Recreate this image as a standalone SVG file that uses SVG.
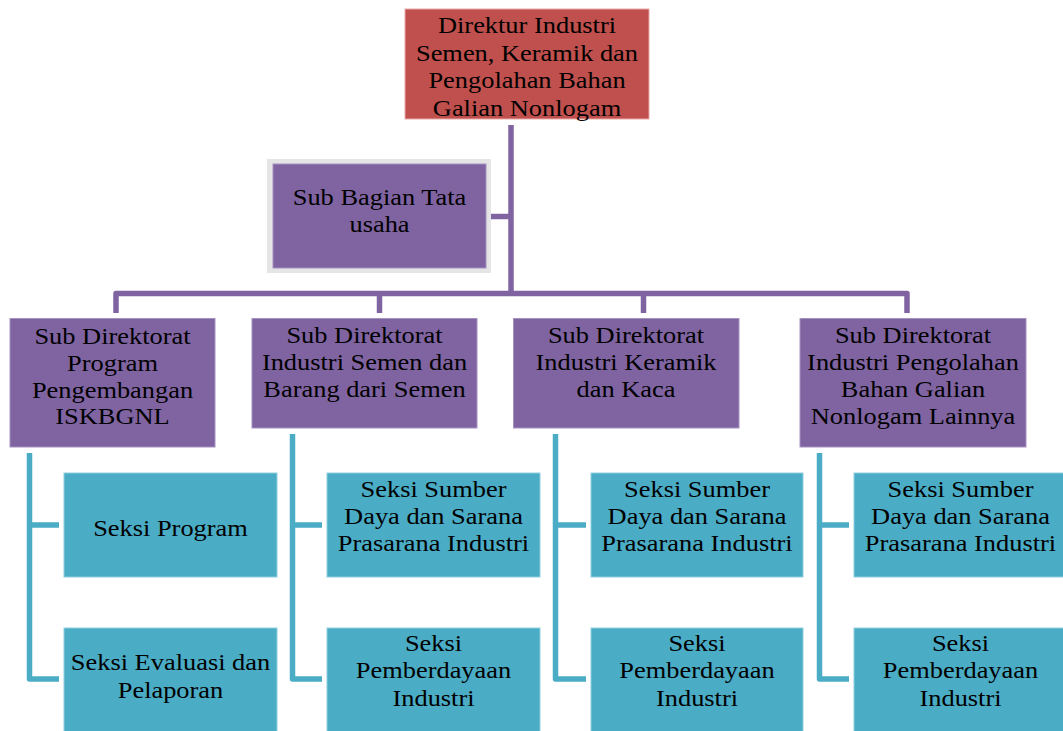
<svg xmlns="http://www.w3.org/2000/svg" width="1063" height="731" viewBox="0 0 1063 731">
<style>
.t{font-family:"Liberation Serif","Times New Roman",serif;font-size:24px;fill:#000;text-anchor:middle}
.red{fill:#C0504D;stroke:#E9A9A7;stroke-width:1}
.pur{fill:#8064A2;stroke:#A591C0;stroke-width:1}
.cy{fill:#4BACC6;stroke:#8FCFE0;stroke-width:1}
.pl{fill:none;stroke:#8064A2;stroke-width:5.5;stroke-linejoin:round}
.cl{fill:none;stroke:#4BACC6;stroke-width:5.5;stroke-linejoin:round}
</style>
<rect width="1063" height="731" fill="#fff"/>
<g id="connectors">
<path class="pl" d="M511,125 V293.5"/>
<path class="pl" d="M491,216.5 H511"/>
<path class="pl" d="M116,313 V293.5 H907 V313"/>
<path class="pl" d="M379.5,293.5 V313"/>
<path class="pl" d="M643.5,293.5 V313"/>
<path class="cl" d="M29.5,453 V679 H59 M29.5,525 H59"/>
<path class="cl" d="M292.5,434 V679 H322 M292.5,525 H322"/>
<path class="cl" d="M555.5,434 V679 H586 M555.5,525 H586"/>
<path class="cl" d="M819.5,453 V679 H849 M819.5,525 H849"/>
</g>
<g id="direktur">
<rect class="red" x="405" y="9" width="244" height="110"/>
<g transform="translate(527,0) scale(1.1,1)"><text class="t" x="0" y="33.5">Direktur Industri</text><text class="t" x="0" y="61">Semen, Keramik dan</text><text class="t" x="0" y="88.5">Pengolahan Bahan</text><text class="t" x="0" y="116">Galian Nonlogam</text></g>
</g>
<g id="subbagian">
<rect x="267" y="159" width="224" height="114" fill="#E5E5E5"/>
<rect class="pur" x="273" y="164" width="213" height="104"/>
<g transform="translate(379.5,0) scale(1.1,1)"><text class="t" x="0" y="205">Sub Bagian Tata</text><text class="t" x="0" y="232">usaha</text></g>
</g>
<g id="subdit1">
<rect class="pur" x="10" y="318.5" width="205" height="128.5"/>
<g transform="translate(112.5,0) scale(1.1,1)"><text class="t" x="0" y="344">Sub Direktorat</text><text class="t" x="0" y="371">Program</text><text class="t" x="0" y="398">Pengembangan</text><text class="t" x="0" y="424.5">ISKBGNL</text></g>
</g>
<g id="subdit2">
<rect class="pur" x="252" y="318.5" width="225" height="109.5"/>
<g transform="translate(364.5,0) scale(1.1,1)"><text class="t" x="0" y="343.5">Sub Direktorat</text><text class="t" x="0" y="370.5">Industri Semen dan</text><text class="t" x="0" y="397.5">Barang dari Semen</text></g>
</g>
<g id="subdit3">
<rect class="pur" x="513.5" y="318.5" width="225.5" height="109.5"/>
<g transform="translate(626,0) scale(1.1,1)"><text class="t" x="0" y="343.5">Sub Direktorat</text><text class="t" x="0" y="370.5">Industri Keramik</text><text class="t" x="0" y="397.5">dan Kaca</text></g>
</g>
<g id="subdit4">
<rect class="pur" x="800" y="318.5" width="226" height="128.5"/>
<g transform="translate(913,0) scale(1.1,1)"><text class="t" x="0" y="343.5">Sub Direktorat</text><text class="t" x="0" y="370.5">Industri Pengolahan</text><text class="t" x="0" y="397.5">Bahan Galian</text><text class="t" x="0" y="424">Nonlogam Lainnya</text></g>
</g>
<g id="seksi-program">
<rect class="cy" x="64" y="473" width="213" height="104"/>
<g transform="translate(170.5,0) scale(1.1,1)"><text class="t" x="0" y="536">Seksi Program</text></g>
</g>
<g id="seksi-evaluasi">
<rect class="cy" x="64" y="628" width="213" height="110"/>
<g transform="translate(170.5,0) scale(1.1,1)"><text class="t" x="0" y="670">Seksi Evaluasi dan</text><text class="t" x="0" y="698">Pelaporan</text></g>
</g>
<g id="seksi-sumber-2">
<rect class="cy" x="327" y="473" width="213" height="104"/>
<g transform="translate(433.5,0) scale(1.1,1)"><text class="t" x="0" y="497">Seksi Sumber</text><text class="t" x="0" y="524">Daya dan Sarana</text><text class="t" x="0" y="551">Prasarana Industri</text></g>
</g>
<g id="seksi-pemberdayaan-2">
<rect class="cy" x="327" y="628" width="213" height="110"/>
<g transform="translate(433.5,0) scale(1.1,1)"><text class="t" x="0" y="651">Seksi</text><text class="t" x="0" y="678.5">Pemberdayaan</text><text class="t" x="0" y="706">Industri</text></g>
</g>
<g id="seksi-sumber-3">
<rect class="cy" x="591" y="473" width="212" height="104"/>
<g transform="translate(697,0) scale(1.1,1)"><text class="t" x="0" y="497">Seksi Sumber</text><text class="t" x="0" y="524">Daya dan Sarana</text><text class="t" x="0" y="551">Prasarana Industri</text></g>
</g>
<g id="seksi-pemberdayaan-3">
<rect class="cy" x="591" y="628" width="212" height="110"/>
<g transform="translate(697,0) scale(1.1,1)"><text class="t" x="0" y="651">Seksi</text><text class="t" x="0" y="678.5">Pemberdayaan</text><text class="t" x="0" y="706">Industri</text></g>
</g>
<g id="seksi-sumber-4">
<rect class="cy" x="854" y="473" width="213" height="104"/>
<g transform="translate(960.5,0) scale(1.1,1)"><text class="t" x="0" y="497">Seksi Sumber</text><text class="t" x="0" y="524">Daya dan Sarana</text><text class="t" x="0" y="551">Prasarana Industri</text></g>
</g>
<g id="seksi-pemberdayaan-4">
<rect class="cy" x="854" y="628" width="213" height="110"/>
<g transform="translate(960.5,0) scale(1.1,1)"><text class="t" x="0" y="651">Seksi</text><text class="t" x="0" y="678.5">Pemberdayaan</text><text class="t" x="0" y="706">Industri</text></g>
</g>
</svg>
